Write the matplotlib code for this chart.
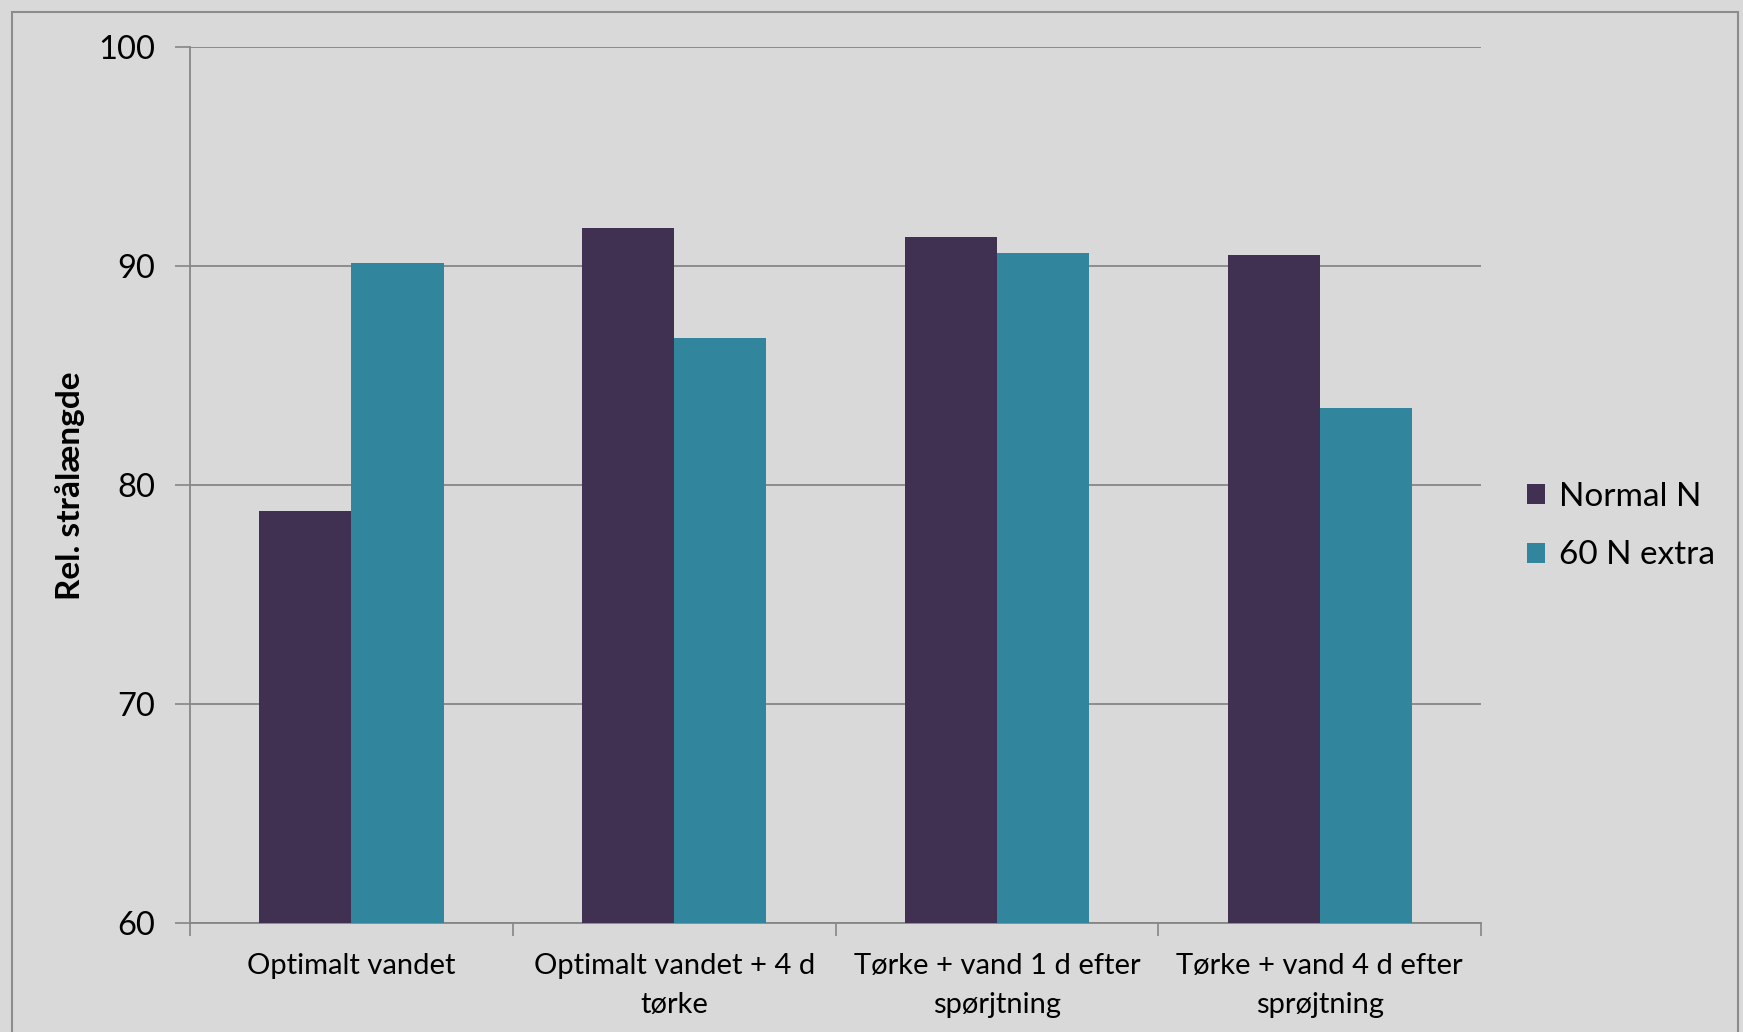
import matplotlib
matplotlib.use("Agg")
import matplotlib.pyplot as plt
import numpy as np
from matplotlib.patches import Rectangle, Patch

categories = ["Optimalt vandet", "Optimalt vandet + 4 d\ntørke",
              "Tørke + vand 1 d efter\nspørjtning", "Tørke + vand 4 d efter\nsprøjtning"]
series_names = ["Normal N", "60 N extra"]
normal_n = [78.8, 91.7, 91.3, 90.5]
n60_extra = [90.1, 86.7, 90.6, 83.5]
yticks = [60, 70, 80, 90, 100]

plt.rcParams['font.family'] = ['Lato', 'DejaVu Sans']
bg = "#D9D9D9"
c1 = "#403152"
c2 = "#31859C"
grid_c = "#868686"

fig = plt.figure(figsize=(17.43, 10.32), dpi=100, facecolor=bg)
ax = fig.add_axes([0.109, 0.1059, 0.7408, 0.8489])
ax.set_facecolor(bg)

x = np.arange(len(categories))
w = 0.2857
ax.bar(x - w/2, normal_n, width=w, color=c1, zorder=3, label=series_names[0])
ax.bar(x + w/2, n60_extra, width=w, color=c2, zorder=3, label=series_names[1])

ax.set_xlim(-0.5, len(categories) - 0.5)
ax.set_ylim(60, 100)
ax.set_yticks(yticks)
ax.set_yticklabels([str(v) for v in yticks], fontsize=23.5)
ax.yaxis.grid(True, color=grid_c, linewidth=1.3, zorder=0)
ax.set_axisbelow(True)

ax.set_xticks(np.arange(len(categories) + 1) - 0.5)
ax.set_xticklabels([])
ax.set_xticks(x, minor=True)
ax.set_xticklabels(categories, minor=True, fontsize=21, linespacing=1.6)
ax.tick_params(axis='x', which='major', length=9, color=grid_c, width=1.2, direction='out')
ax.tick_params(axis='x', which='minor', length=0, pad=22)
ax.tick_params(axis='y', length=11, color=grid_c, width=1.2, pad=14)

for s in ['top', 'right']:
    ax.spines[s].set_visible(False)
for s in ['left', 'bottom']:
    ax.spines[s].set_color(grid_c)
    ax.spines[s].set_linewidth(1.3)

fig.text(70/1743, 0.529, "Rel. strålængde", fontsize=24, fontweight='bold',
         rotation=90, ha='center', va='center')

handles = [Patch(facecolor=c1), Patch(facecolor=c2)]
leg = fig.legend(handles, series_names, loc='center left', bbox_to_anchor=(0.876, 0.4900),
                 frameon=False, fontsize=24, handlelength=0.55, handleheight=0.55,
                 handletextpad=0.4, labelspacing=0.85, borderpad=0, borderaxespad=0)

fig.patches.append(Rectangle((12/1743, -0.01), (1738-12)/1743, 1 - 12/1032 + 0.01,
                             transform=fig.transFigure, fill=False,
                             edgecolor="#8C8C8C", linewidth=1.5))

fig.savefig("out.png", dpi=100, facecolor=bg)
